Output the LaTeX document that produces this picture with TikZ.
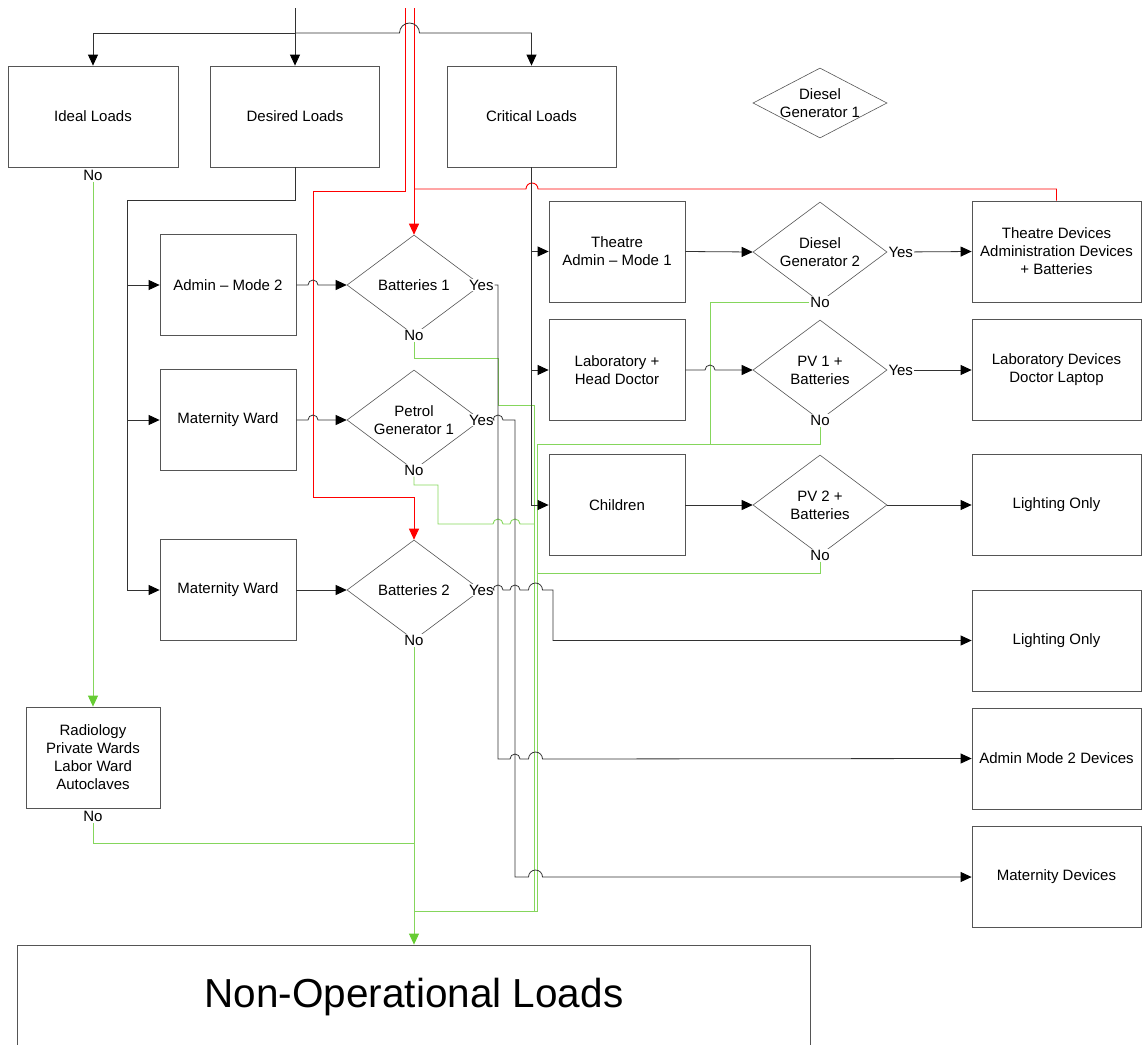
\documentclass[tikz,border=0pt]{standalone}
\usepackage{fontspec}
\setmainfont{Liberation Sans}
\usetikzlibrary{shapes.geometric, arrows.meta}
\definecolor{linegray}{RGB}{50,50,50}
\definecolor{boxgray}{RGB}{85,85,85}
\definecolor{nogreen}{RGB}{102,204,51}
\definecolor{feedred}{RGB}{255,0,0}
\newcommand{\boxfont}{\fontsize{15}{18}\selectfont}

\begin{document}
\begin{tikzpicture}[x=1pt, y=-1pt,
		box/.style={rectangle, draw=boxgray, line width=0.8pt,
			minimum width=136pt, minimum height=101pt,
			align=center, font=\boxfont},
		wide/.style={box, minimum width=169pt},
		choice/.style={diamond, draw=boxgray, line width=0.6pt,
			minimum width=134pt, minimum height=100pt, inner sep=0pt,
			shape aspect=1.34, align=center, font=\boxfont},
		answer/.style={fill=white, inner sep=1pt, font=\boxfont},
		link/.style={draw=linegray, line width=0.8pt},
		arrow/.style={link, -{Triangle[length=11pt, width=10pt, color=black]}},
		noline/.style={draw=nogreen!80, line width=0.9pt},
		noflow/.style={noline, -{Triangle[length=11pt, width=10pt, color=nogreen]}},
		redline/.style={draw=feedred, line width=0.9pt},
		redflow/.style={redline, -{Triangle[length=11pt, width=10pt, color=feedred]}},
		hop/.style={insert path={arc[start angle=180, end angle=0, radius=#1]}},
		hop/.default=5pt
		]
		\useasboundingbox (0,0) rectangle (1143,1044);
		
		% load groups
		\node[box, minimum width=170pt] (ideal) at (93,116.5) {Ideal Loads};
		\node[wide] (desired) at (295,116.5) {Desired Loads};
		\node[wide] (critical) at (531.5,116.5) {Critical Loads};
		\node[choice, minimum height=70pt] (dsl1) at (820,103) {};
		\node[font=\boxfont, align=center] (dsl1txt) at (dsl1) {Diesel\\Generator 1};
		
		% desired loads branch
		\node[box] (admin) at (228,285) {Admin – Mode 2};
		\node[box] (mat1) at (228,420) {Maternity Ward};
		\node[box] (mat2) at (228,590) {Maternity Ward};
		\node[choice] (bat1) at (414,285) {Batteries 1};
		\node[choice] (petrol) at (414,420) {Petrol\\Generator 1};
		\node[choice] (bat2) at (414,590) {Batteries 2};
		
		% critical loads branch
		\node[box] (theatre) at (617,251.5) {Theatre\\Admin – Mode 1};
		\node[box] (lab) at (617,370) {Laboratory +\\Head Doctor};
		\node[box] (children) at (617,505) {Children};
		\node[choice] (dsl2) at (820,252) {Diesel\\Generator 2};
		\node[choice] (pv1) at (820,370) {PV 1 +\\Batteries};
		\node[choice] (pv2) at (820,505) {PV 2 +\\Batteries};
		
		% supplied devices
		\node[wide] (thdev) at (1056.5,251.5) {Theatre Devices\\Administration Devices\\+ Batteries};
		\node[wide] (labdev) at (1056.5,370) {Laboratory Devices\\Doctor Laptop};
		\node[wide] (light1) at (1056.5,505) {Lighting Only};
		\node[wide] (light2) at (1056.5,640.5) {Lighting Only};
		\node[wide] (admdev) at (1056.5,758.5) {Admin Mode 2 Devices};
		\node[wide] (matdev) at (1056.5,877) {Maternity Devices};
		
		\node[box, minimum width=134pt] (radio) at (93,757.5)
		{Radiology\\Private Wards\\Labor Ward\\Autoclaves};
		\node[box, minimum width=793pt, minimum height=104pt,
			font=\fontsize{40.5}{48}\selectfont] (nonop) at (414,997)
		{Non-Operational Loads};
		
		% decision outcomes
		\node[answer] (idealno) at ([yshift=-8pt]ideal.south) {No};
		\node[answer] (radiono) at ([yshift=-8pt]radio.south) {No};
		\node[answer] (bat1yes) at (bat1.east) {Yes};
		\node[answer] (bat1no) at (bat1.south) {No};
		\node[answer] (petyes) at (petrol.east) {Yes};
		\node[answer] (petno) at (petrol.south) {No};
		\node[answer] (bat2yes) at (bat2.east) {Yes};
		\node[answer] (bat2no) at (bat2.south) {No};
		\node[answer, anchor=west] (dsl2yes) at (dsl2.east) {Yes};
		\node[answer] (dsl2no) at (dsl2.south) {No};
		\node[answer, anchor=west] (pv1yes) at (pv1.east) {Yes};
		\node[answer] (pv1no) at (pv1.south) {No};
		\node[answer] (pv2no) at (pv2.south) {No};
		
		% "No" paths to non-operational loads
		\draw[noflow] (idealno) -- (radio.north);
		\draw[noline] (radiono) |- (414,843);
		\draw[noflow] (bat2no) -- (nonop.north);
		\draw[noline] (bat1no) |- (498,358) -- (498,405) -- (534,405)
		-- (534,911) -- (414,911);
		\draw[noline] (petno) |- (438,485) -- (438,524) -- (493,524) [hop]
		-- (510,524) [hop] -- (534,524);
		\draw[noline] (dsl2no) -| (710,444) -| (537,911) -- (414,911);
		\draw[noline] (pv1no) |- (710,444);
		\draw[noline] (pv2no) |- (537,573);
		
		% battery feed
		\coordinate (redin1) at (405,8);
		\coordinate (redin2) at (414,8);
		\coordinate (redtap) at (414,189);
		\draw[redflow] (redin1) -- (405,191) -- (313,191) -- (313,497)
		-- (414,497) -- (bat2.north);
		\draw[redflow] (redin2) -- (bat1.north);
		\draw[redline] (redtap) -- (526,189) [hop=6pt] -- (1056.5,189)
		-- (thdev.north);
		
		% main supply
		\coordinate (feed) at (295,8);
		\coordinate (fork) at (295,33);
		\draw[arrow] (feed) -- (desired.north);
		\draw[arrow] (fork) -| (ideal.north);
		\draw[arrow] (fork) -- (399.5,33) [hop=10pt] -| (critical.north);
		
		\coordinate (dbus) at (127,200);
		\draw[link] (desired.south) |- (dbus);
		\draw[arrow] (dbus) |- (admin.west);
		\draw[arrow] (dbus) |- (mat1.west);
		\draw[arrow] (dbus) |- (mat2.west);
		
		\draw[arrow] (admin.east) -- (308,285) [hop] -- (bat1.west);
		\draw[arrow] (mat1.east) -- (308,420) [hop] -- (petrol.west);
		\draw[arrow] (mat2.east) -- (bat2.west);
		
		\draw[arrow] (critical.south) |- (theatre.west);
		\draw[arrow] (critical.south) |- (lab.west);
		\draw[arrow] (critical.south) |- (children.west);
		
		\draw[arrow] (theatre.east) -- (dsl2.west);
		\draw[arrow] (lab.east) -- (705,370) [hop] -- (pv1.west);
		\draw[arrow] (children.east) -- (pv2.west);
		\draw[arrow] (dsl2yes) -- (thdev.west);
		\draw[arrow] (pv1yes) -- (labdev.west);
		\draw[arrow] (pv2.east) -- (light1.west);
		
		% "Yes" paths of the desired loads
		\draw[arrow] (bat1yes) -| (498,759) -- (510,759) [hop]
		-- (528.5,759) [hop=7pt] -- (admdev.west);
		\draw[arrow] (petyes) -- (493,420) [hop] -- (515,420) -- (515,877)
		-- (528.5,877) [hop=7pt] -- (matdev.west);
		\draw[arrow] (bat2yes) -- (493,590) [hop] -- (510,590) [hop]
		-- (528.5,590) [hop=7pt] -- (553,590) |- (light2.west);
	\end{tikzpicture}
\end{document}
